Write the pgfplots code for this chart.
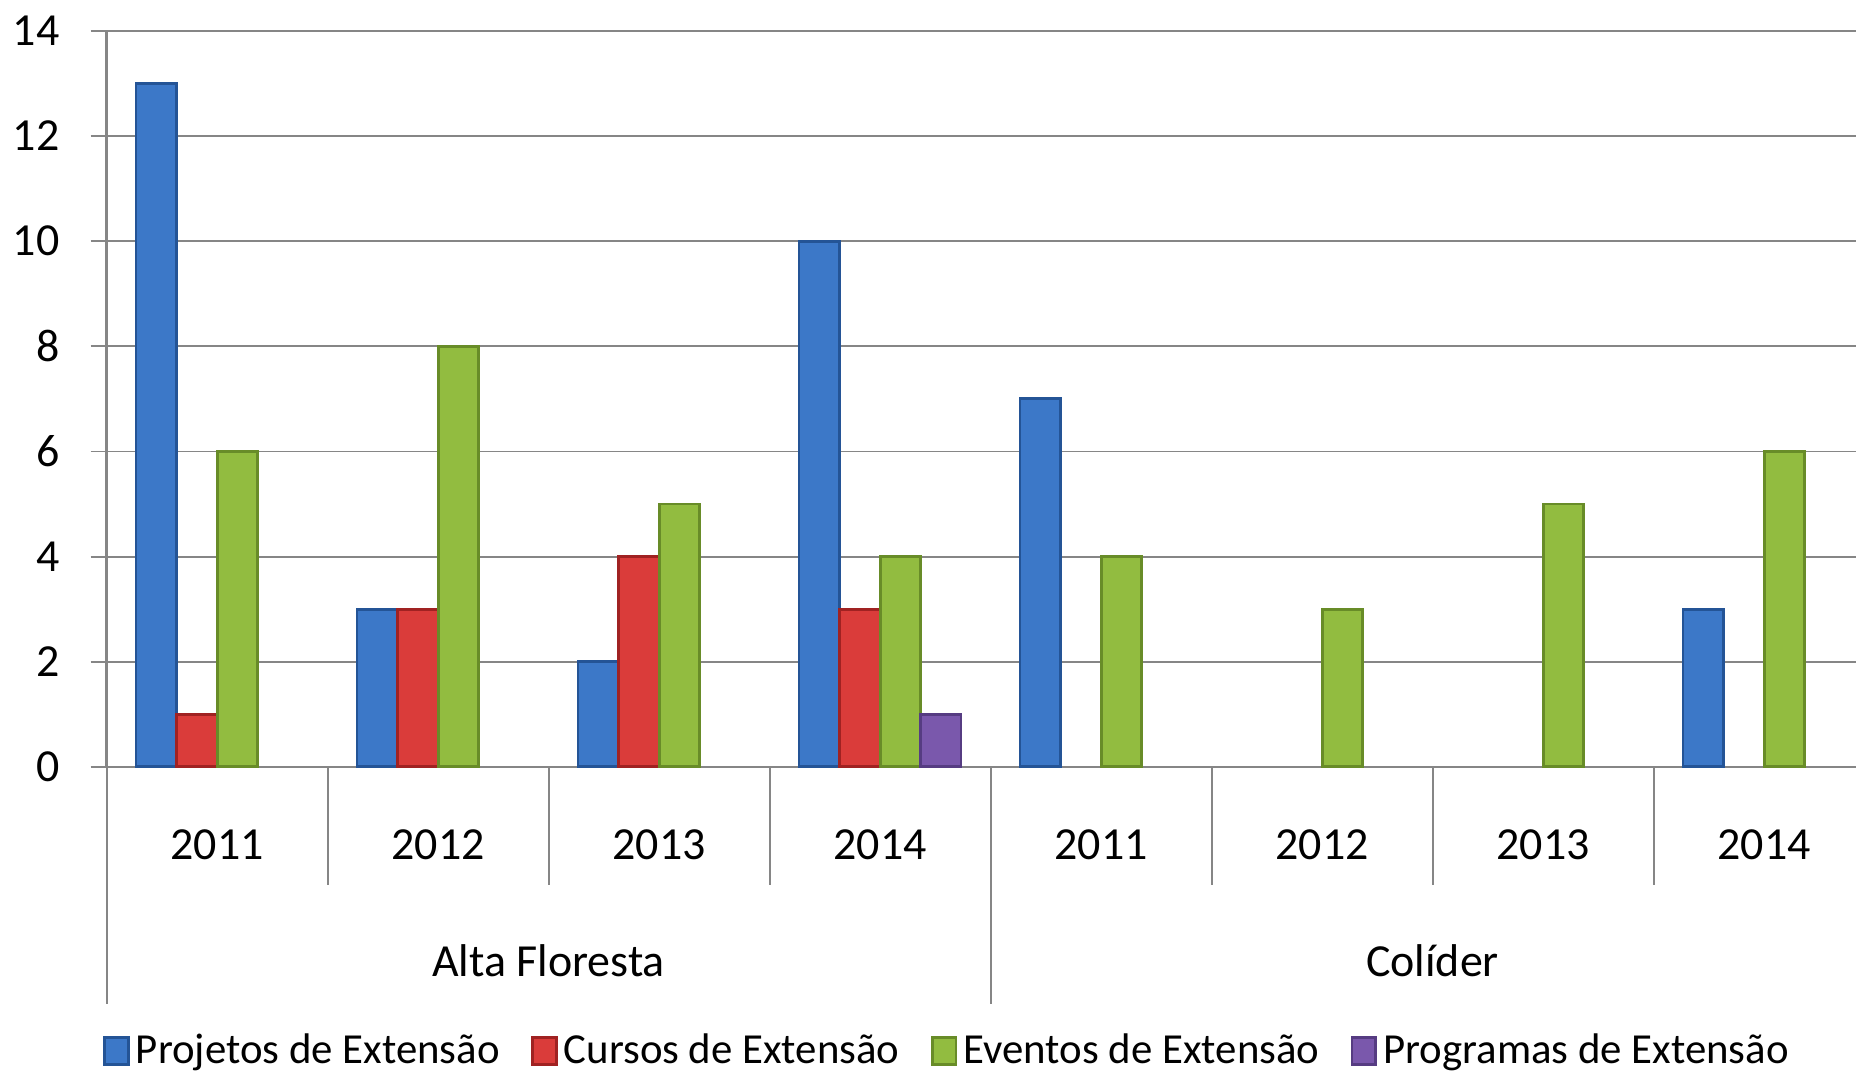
\documentclass[border=0pt]{standalone}
\usepackage{pgfplots}
\pgfplotsset{compat=1.18}
\usepackage{fontspec}
\setmainfont{Carlito}

\definecolor{axgray}{RGB}{134,134,134}
\definecolor{blueM}{RGB}{60,120,200}
\definecolor{blueD}{RGB}{36,84,150}
\definecolor{redM}{RGB}{218,60,58}
\definecolor{redD}{RGB}{160,34,34}
\definecolor{greenM}{RGB}{146,188,64}
\definecolor{greenD}{RGB}{104,140,40}
\definecolor{purpM}{RGB}{122,88,172}
\definecolor{purpD}{RGB}{86,60,130}

\begin{document}
\begin{tikzpicture}
\begin{axis}[
    name=ax,
    scale only axis,
    width=559.8pt, height=235.5pt,
    xmin=-0.5, xmax=7.416,
    ymin=0, ymax=14,
    ytick={0,2,...,14},
    xtick={0,...,7},
    xticklabels={2011,2012,2013,2014,2011,2012,2013,2014},
    axis x line*=bottom, axis y line*=left,
    axis line style={draw=axgray, line width=0.8pt},
    ymajorgrids, grid style={draw=axgray, line width=0.6pt},
    tick align=outside,
    major tick length=5.1pt,
    y tick style={draw=axgray, line width=0.6pt},
    x tick style={draw=none},
    /pgf/number format/assume math mode=true,
    font=\fontsize{14.7pt}{16pt}\selectfont,
    tick label style={font=\fontsize{14.7pt}{16pt}\selectfont},
    yticklabel style={anchor=east, inner sep=0pt, xshift=-9.8pt},
    xticklabel style={anchor=center, yshift=-19.7pt},
    ybar, bar width=0.183,
    clip=false,
    legend columns=4,
    legend style={draw=none, at={(0.4816,-0.386)}, anchor=center,
        font=\fontsize{13.7pt}{15pt}\selectfont,
        /tikz/every even column/.append style={column sep=8pt}},
    legend image code/.code={\fill[#1] (0pt,-4.4pt) rectangle (7.6pt,4.2pt);},
]
\addplot[bar shift=-0.275, draw=blueD, line width=0.9pt, fill=blueM]
    coordinates {(0,13) (1,3) (2,2) (3,10) (4,7) (7,3)};
\addplot[bar shift=-0.092, draw=redD, line width=0.9pt, fill=redM]
    coordinates {(0,1) (1,3) (2,4) (3,3)};
\addplot[bar shift=0.092, draw=greenD, line width=0.9pt, fill=greenM]
    coordinates {(0,6) (1,8) (2,5) (3,4) (4,4) (5,3) (6,5) (7,6)};
\addplot[bar shift=0.275, draw=purpD, line width=0.9pt, fill=purpM]
    coordinates {(3,1)};
\legend{Projetos de Extensão, Cursos de Extensão, Eventos de Extensão, Programas de Extensão}
% category separators below the axis
\pgfplotsinvokeforeach{0.5,1.5,2.5,4.5,5.5,6.5}{
    \draw[axgray, line width=0.6pt] (axis cs:#1,0) -- ++(0pt,-37.8pt);
}
\pgfplotsinvokeforeach{-0.5,3.5}{
    \draw[axgray, line width=0.6pt] (axis cs:#1,0) -- ++(0pt,-75.9pt);
}
\node at ([yshift=-62.1pt]axis cs:1.5,0) {Alta Floresta};
\node at ([yshift=-62.1pt]axis cs:5.5,0) {Colíder};
\end{axis}
\pgfresetboundingbox
\path[use as bounding box] ([shift={(-34.1pt,-98.2pt)}]ax.south west) rectangle ([shift={(0pt,9.9pt)}]ax.north east);
\end{tikzpicture}
\end{document}
